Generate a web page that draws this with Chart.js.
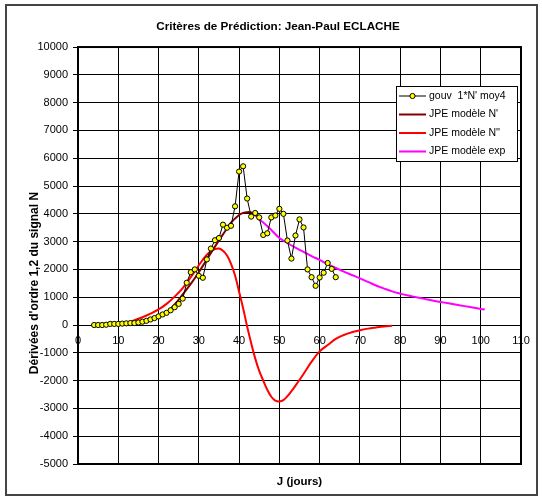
<!DOCTYPE html>
<html>
<head>
<meta charset="utf-8">
<script src="https://cdn.jsdelivr.net/npm/chart.js@4.4.1/dist/chart.umd.min.js"></script>
<style>
  body { margin: 0; background: #fff; }
</style>
</head>
<body>
<canvas id="prediction" width="542" height="500"></canvas>
<script>
// valeurs (jours, dérivées)
const gouvDays = [4, 5, 6, 7, 8, 9, 10, 11, 12, 13, 14, 15, 16, 17, 18, 19, 20, 21, 22, 23, 24, 25, 26,
  27, 28, 29, 30, 31, 32, 33, 34, 35, 36, 37, 38, 39, 40, 41, 42, 43, 44, 45, 46,
  47, 48, 49, 50, 51, 52, 53, 54, 55, 56, 57, 58, 59, 60, 61, 62, 63, 64];
const gouvValues = [0, 0, 0, 10, 40, 40, 40, 50, 60, 70, 70, 90, 120, 150, 200, 250, 310, 380, 440, 530, 640, 760, 950,
  1520, 1900, 2000, 1770, 1700, 2360, 2750, 3050, 3130, 3610, 3500, 3570, 4270, 5520, 5710, 4550, 3900, 4030, 3870, 3240,
  3300, 3870, 3940, 4180, 4000, 3040, 2390, 3220, 3800, 3510, 2000, 1720, 1410, 1710, 1880, 2230, 2020, 1720];

const n1Days = [10, 12, 14, 16, 18, 20, 22, 24, 26, 28, 30, 32, 34, 36, 38, 40, 41, 42, 43, 44, 45];
const n1Values = [20, 40, 70, 120, 190, 290, 450, 740, 1100, 1480, 1900, 2360, 2820, 3260, 3680, 3960, 4030, 4060, 4050, 3990, 3900];

const n2Days = [10, 12, 14, 16, 18, 20, 22, 24, 26, 28, 30, 32, 33, 34, 35, 36, 37, 38, 39, 40, 41, 42, 43, 44, 45,
  46, 47, 48, 49, 50, 51, 52, 53, 54, 56, 58, 60, 62, 64, 66, 68, 70, 72, 74, 76, 78];
const n2Values = [30, 80, 170, 280, 410, 560, 760, 1020, 1330, 1720, 2150, 2530, 2650, 2730, 2750, 2670, 2500, 2200, 1780, 1200, 600, -50, -650, -1200, -1650,
  -2000, -2330, -2580, -2720, -2750, -2700, -2560, -2380, -2180, -1760, -1320, -950, -720, -500, -360, -260, -190, -130, -90, -55, -30];

const expDays = [44, 45, 46, 48, 50, 52, 54, 56, 58, 60, 62, 64, 66, 68, 70, 72, 74, 76, 78, 80,
  82, 84, 86, 88, 90, 92, 94, 96, 98, 100, 101];
const expValues = [3950, 3800, 3690, 3420, 3130, 2950, 2780, 2630, 2480, 2340, 2190, 2050, 1920, 1800, 1680, 1550, 1420, 1310, 1210, 1130,
  1060, 1000, 940, 880, 830, 780, 730, 680, 630, 580, 560];

const seriesLabels = ["gouv  1*N' moy4", "JPE modèle N'", "JPE modèle N''", "JPE modèle exp"];

const toPoints = (xs, ys) => xs.map((x, i) => ({ x: x, y: ys[i] }));
const FONT = "'Liberation Sans', Arial, sans-serif";

// cadre extérieur et fond blanc
const framePlugin = {
  id: 'frame',
  beforeDraw(chart) {
    const ctx = chart.ctx;
    ctx.save();
    ctx.fillStyle = '#fff';
    ctx.fillRect(0, 0, chart.width, chart.height);
    ctx.strokeStyle = '#444';
    ctx.lineWidth = 2;
    ctx.strokeRect(6, 5, 531, 490);
    ctx.restore();
  },
  afterDraw(chart) {
    const a = chart.chartArea;
    const ctx = chart.ctx;
    ctx.save();
    ctx.strokeStyle = '#000';
    ctx.lineWidth = 2;
    ctx.strokeRect(a.left, a.top, a.right - a.left, a.bottom - a.top);
    // titre de l'axe vertical
    ctx.translate(35, 283);
    ctx.rotate(-Math.PI / 2);
    ctx.fillStyle = '#000';
    ctx.font = 'bold 12px ' + FONT;
    ctx.textAlign = 'center';
    ctx.textBaseline = 'middle';
    ctx.fillText("Dérivées d'ordre 1,2 du signal N", 0, 0);
    ctx.restore();
  }
};

// légende encadrée dans la zone du graphique
const boxLegend = {
  id: 'boxLegend',
  afterDraw(chart) {
    const ctx = chart.ctx;
    const x = 396, y = 86, w = 121, h = 75;
    ctx.save();
    ctx.fillStyle = '#fff';
    ctx.fillRect(x, y, w, h);
    ctx.strokeStyle = '#000';
    ctx.lineWidth = 1;
    ctx.strokeRect(x + 0.5, y + 0.5, w, h);
    ctx.font = '10.5px ' + FONT;
    ctx.textBaseline = 'middle';
    chart.data.datasets.forEach((ds, i) => {
      const ly = y + 10 + i * 18.5;
      ctx.strokeStyle = ds.borderColor;
      ctx.lineWidth = ds.borderWidth;
      ctx.beginPath();
      ctx.moveTo(x + 3, ly);
      ctx.lineTo(x + 30, ly);
      ctx.stroke();
      if (ds.pointRadius > 0) {
        ctx.beginPath();
        ctx.arc(x + 16.5, ly, ds.pointRadius, 0, Math.PI * 2);
        ctx.fillStyle = ds.pointBackgroundColor;
        ctx.fill();
        ctx.lineWidth = 1;
        ctx.strokeStyle = '#000';
        ctx.stroke();
      }
      ctx.fillStyle = '#000';
      ctx.fillText(ds.label, x + 33, ly);
    });
    ctx.restore();
  }
};

new Chart(document.getElementById('prediction'), {
  type: 'line',
  data: {
    datasets: [
      {
        label: seriesLabels[0],
        data: toPoints(gouvDays, gouvValues),
        borderColor: '#000',
        borderWidth: 1,
        pointRadius: 2.6,
        pointBorderWidth: 1,
        pointBackgroundColor: '#ffff00',
        pointBorderColor: '#000',
        tension: 0,
      },
      {
        label: seriesLabels[1],
        data: toPoints(n1Days, n1Values),
        borderColor: '#800000',
        borderWidth: 2,
        pointRadius: 0,
        tension: 0.4,
      },
      {
        label: seriesLabels[2],
        data: toPoints(n2Days, n2Values),
        borderColor: '#ff0000',
        borderWidth: 2,
        pointRadius: 0,
        tension: 0.4,
      },
      {
        label: seriesLabels[3],
        data: toPoints(expDays, expValues),
        borderColor: '#ff00ff',
        borderWidth: 2,
        pointRadius: 0,
        tension: 0.4,
      },
    ],
  },
  options: {
    responsive: false,
    animation: false,
    layout: { padding: { left: 35, right: 21, top: 0, bottom: 10 } },
    plugins: {
      legend: { display: false },
      tooltip: { enabled: false },
      title: {
        display: true,
        text: 'Critères de Prédiction: Jean-Paul ECLACHE',
        color: '#000',
        font: { family: FONT, size: 11.7, weight: 'bold' },
        padding: { top: 19.5, bottom: 13.5 },
      },
    },
    scales: {
      x: {
        type: 'linear',
        position: { y: 0 },
        min: 0,
        max: 110,
        ticks: { stepSize: 10, color: '#000', padding: 5, font: { family: FONT, size: 11 } },
        grid: { color: '#000', lineWidth: 1, tickLength: 4, tickColor: '#000' },
        border: { display: true, color: '#000', width: 1 },
      },
      x2: {
        type: 'linear',
        position: 'bottom',
        min: 0,
        max: 110,
        ticks: { display: false },
        grid: { display: false },
        border: { display: false },
        title: {
          display: true,
          text: 'J (jours)',
          color: '#000',
          font: { family: FONT, size: 11.5, weight: 'bold' },
          padding: { top: 0, bottom: 1 },
        },
        afterFit: (scale) => { scale.height = 26; },
      },
      y: {
        min: -5000,
        max: 10000,
        ticks: {
          stepSize: 1000,
          color: '#000',
          padding: 5,
          font: { family: FONT, size: 11 },
          callback: (v) => String(v),
        },
        grid: { color: '#000', lineWidth: 1, tickLength: 5, tickColor: '#000' },
        border: { display: false },
        afterFit: (scale) => { scale.width = 43; },
      },
    },
  },
  plugins: [framePlugin, boxLegend],
});
</script>
</body>
</html>
